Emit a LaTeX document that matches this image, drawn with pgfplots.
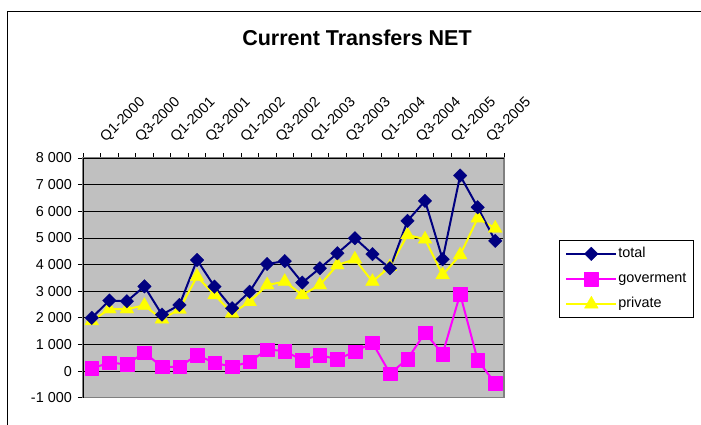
\documentclass[border=0pt]{standalone}
\usepackage{pgfplots}
\pgfplotsset{compat=1.18}
\usepackage{fontspec}
\setmainfont{Liberation Sans}
\definecolor{totc}{HTML}{000080}
\definecolor{govc}{HTML}{FF00FF}
\definecolor{privc}{HTML}{FFFF00}
\definecolor{plotbg}{HTML}{C0C0C0}
\definecolor{bordc}{HTML}{808080}
\begin{document}
\begin{tikzpicture}
\useasboundingbox (0,0) rectangle (701bp,-425bp);
\fill[white] (0,0) rectangle (701bp,-425bp);
\draw[line width=1bp,black] (7.5bp,-425bp) -- (7.5bp,-11.5bp) -- (701bp,-11.5bp);
\node[font=\fontsize{21.5bp}{25bp}\selectfont\bfseries] at (357bp,-38bp) {Current Transfers NET};
\begin{axis}[
  at={(83bp,-158bp)}, anchor=north west,
  scale only axis, width=421bp, height=239.7bp,
  xmin=-0.5, xmax=23.5, ymin=-1000, ymax=8000,
  axis background/.style={fill=plotbg},
  axis line style={draw=bordc, line width=1.5bp},
  font=\fontsize{14.4bp}{17bp}\selectfont,
  /pgf/number format/assume math mode=true,
  ytick={-1000,0,1000,2000,3000,4000,5000,6000,7000,8000},
  yticklabels={-1 000,0,1 000,2 000,3 000,4 000,5 000,6 000,7 000,8 000},
  ytick pos=left,
  xtick={0,2,...,22},
  xticklabels={Q1-2000,Q3-2000,Q1-2001,Q3-2001,Q1-2002,Q3-2002,Q1-2003,Q3-2003,Q1-2004,Q3-2004,Q1-2005,Q3-2005},
  minor xtick={-0.5,0.5,...,23.5},
  xtick pos=upper, xticklabel pos=upper,
  major x tick style={draw=none},
  tick align=outside,
  major tick length=5bp, minor tick length=5bp,
  tick style={black, line width=0.75bp},
  xticklabel style={xshift=16bp, yshift=8bp, rotate=45, anchor=south west, inner sep=0pt},
  yticklabel style={inner sep=0pt, xshift=-6bp},
  ymajorgrids, major grid style={black, line width=0.75bp},
  every axis plot/.append style={line width=2bp, line join=round},
  reverse legend,
  legend style={at={(1.1306,0.6579)}, anchor=north west, draw=black, line width=0.75bp,
    inner xsep=6bp, inner ysep=5.75bp, row sep=9.5bp,
    nodes={inner sep=1bp, text height=10.5bp, text depth=3bp},
    font=\fontsize{14.4bp}{17bp}\selectfont},
  legend cell align=left,
  legend image code/.code={\draw[mark repeat=2,mark phase=2] plot coordinates {(0bp,0bp)(25bp,0bp)(50bp,0bp)};},
]
\addplot[color=privc, mark=triangle*, mark size=8bp, mark options={solid, line width=0.3bp, fill=privc}] coordinates {
(0,1880)(1,2330)(2,2330)(3,2460)(4,1950)(5,2320)(6,3550)(7,2860)(8,2170)(9,2600)(10,3230)(11,3360)
(12,2860)(13,3230)(14,3980)(15,4200)(16,3360)(17,3920)(18,5110)(19,4950)(20,3610)(21,4360)(22,5740)(23,5360)};
\addlegendentry{private}
\addplot[color=govc, mark=square*, mark size=6.8bp, mark options={solid, line width=0.3bp, fill=govc}] coordinates {
(0,100)(1,310)(2,260)(3,690)(4,160)(5,160)(6,600)(7,310)(8,160)(9,350)(10,810)(11,750)
(12,410)(13,600)(14,440)(15,730)(16,1060)(17,-90)(18,450)(19,1440)(20,640)(21,2890)(22,410)(23,-460)};
\addlegendentry{goverment}
\addplot[color=totc, mark=square*, mark size=4.8bp, mark options={solid, line width=0.3bp, fill=totc, rotate=45}] coordinates {
(0,2000)(1,2650)(2,2620)(3,3180)(4,2120)(5,2480)(6,4170)(7,3170)(8,2360)(9,2980)(10,4020)(11,4130)
(12,3320)(13,3860)(14,4420)(15,4990)(16,4390)(17,3860)(18,5640)(19,6390)(20,4200)(21,7340)(22,6150)(23,4890)};
\addlegendentry{total}
\draw[black, line width=0.75bp] (rel axis cs:0,1) -- (rel axis cs:1,1);
\draw[black, line width=0.75bp] (rel axis cs:0,0) -- (rel axis cs:0,1);
\end{axis}
\end{tikzpicture}
\end{document}
